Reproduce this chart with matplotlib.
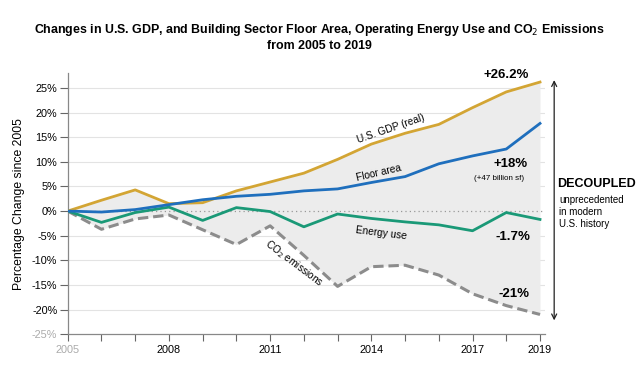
import matplotlib
matplotlib.use("Agg")
import matplotlib.pyplot as plt
import numpy as np

plt.rcParams["font.family"] = ["Liberation Sans", "DejaVu Sans"]

# Datos (% de cambio desde 2005)
years = np.arange(2005, 2020)
gdp = [0, 2.2, 4.3, 1.5, 1.7, 4.1, 5.9, 7.7, 10.5, 13.6, 15.8, 17.6, 21.0, 24.2, 26.2]
floor_area = [0, -0.2, 0.3, 1.3, 2.3, 3.0, 3.4, 4.1, 4.5, 5.8, 7.0, 9.6, 11.2, 12.6, 17.8]
energy = [0, -2.3, -0.3, 0.8, -1.9, 0.7, -0.1, -3.2, -0.6, -1.5, -2.2, -2.8, -4.0, -0.3, -1.7]
co2 = [0, -3.7, -1.6, -0.8, -3.8, -6.8, -3.0, -9.0, -15.3, -11.3, -11.0, -13.0, -16.8, -19.2, -21.0]

ytick_vals = np.arange(-25, 30, 5)
xtick_labels = {2005: "2005", 2008: "2008", 2011: "2011", 2014: "2014", 2017: "2017", 2019: "2019"}

c_gdp = "#d3a534"
c_floor = "#1f6fbd"
c_energy = "#1a9977"
c_co2 = "#8c8c8c"

fig = plt.figure(figsize=(6.39, 3.66), dpi=100)
ax = fig.add_axes([0.106, 0.087, 0.747, 0.713])

ax.fill_between(years, co2, gdp, color="#ececec", zorder=1, linewidth=0)

for v in ytick_vals:
    if v == 0:
        ax.axhline(0, color="#999999", linestyle=(0, (1, 2.5)), linewidth=0.9, zorder=2)
    elif v > -25:
        ax.axhline(v, color="#e3e3e3", linewidth=0.8, zorder=0.5)

ax.plot(years, co2, color=c_co2, linewidth=2.2, linestyle=(0, (3.4, 1.6)), zorder=3)
ax.plot(years, energy, color=c_energy, linewidth=2.0, zorder=4)
ax.plot(years, gdp, color=c_gdp, linewidth=2.0, zorder=4)
ax.plot(years, floor_area, color=c_floor, linewidth=2.0, zorder=5)

ax.set_xlim(2005, 2019.15)
ax.set_ylim(-25, 28)

for s in ["top", "right"]:
    ax.spines[s].set_visible(False)
for s in ["left", "bottom"]:
    ax.spines[s].set_color("#888888")
    ax.spines[s].set_linewidth(0.9)

ax.set_yticks(ytick_vals)
ax.set_yticklabels([f"{v}%" for v in ytick_vals], fontsize=7.8)
ax.get_yticklabels()[0].set_color("#aaaaaa")
ax.set_xticks(years)
ax.set_xticklabels([xtick_labels.get(y, "") for y in years], fontsize=7.8)
ax.get_xticklabels()[0].set_color("#aaaaaa")
ax.tick_params(axis="y", length=5.5, width=0.8, color="#666666", pad=2)
ax.tick_params(axis="x", length=5, width=0.8, color="#666666", pad=3)

ax.set_ylabel("Percentage Change since 2005", fontsize=8.8, labelpad=5)

fig.text(0.5, 0.918, "Changes in U.S. GDP, and Building Sector Floor Area, Operating Energy Use and CO$_2$ Emissions",
         ha="center", va="center", fontsize=8.9, fontweight="bold")
fig.text(0.5, 0.875, "from 2005 to 2019", ha="center", va="center", fontsize=8.9, fontweight="bold")

# Etiquetas de series
ax.text(2014.57, 16.7, "U.S. GDP (real)", rotation=19, fontsize=7.3, ha="center", va="center")
ax.text(2014.22, 7.8, "Floor area", rotation=13, fontsize=7.3, ha="center", va="center")
ax.text(2014.28, -4.4, "Energy use", rotation=-7, fontsize=7.3, ha="center", va="center")
ax.text(2011.7, -10.7, "CO$_2$ emissions", rotation=-37, fontsize=7.3, ha="center", va="center")

ax.text(2018.0, 27.7, "+26.2%", fontsize=9.5, fontweight="bold", ha="center", va="center", clip_on=False)
ax.text(2018.14, 9.5, "+18%", fontsize=9.5, fontweight="bold", ha="center", va="center")
ax.text(2017.78, 6.6, "(+47 billion sf)", fontsize=5.8, ha="center", va="center")
ax.text(2018.19, -5.2, "-1.7%", fontsize=9.5, fontweight="bold", ha="center", va="center")
ax.text(2018.22, -16.9, "-21%", fontsize=9.5, fontweight="bold", ha="center", va="center")

# Flecha doble "decoupled"
ax.annotate("", xy=(2019.42, 26.6), xytext=(2019.42, -22.2), xycoords="data",
            arrowprops=dict(arrowstyle="<->", color="#222222", lw=0.9,
                            shrinkA=0, shrinkB=0, mutation_scale=9),
            annotation_clip=False)
fig.text(557 / 639, 1 - 184 / 366, "DECOUPLED", fontsize=9, fontweight="bold", ha="left", va="center")
fig.text(559 / 639, 1 - 212 / 366, "unprecedented\nin modern\nU.S. history", fontsize=7,
         ha="left", va="center", linespacing=1.25)

plt.savefig("out.png", dpi=100)
